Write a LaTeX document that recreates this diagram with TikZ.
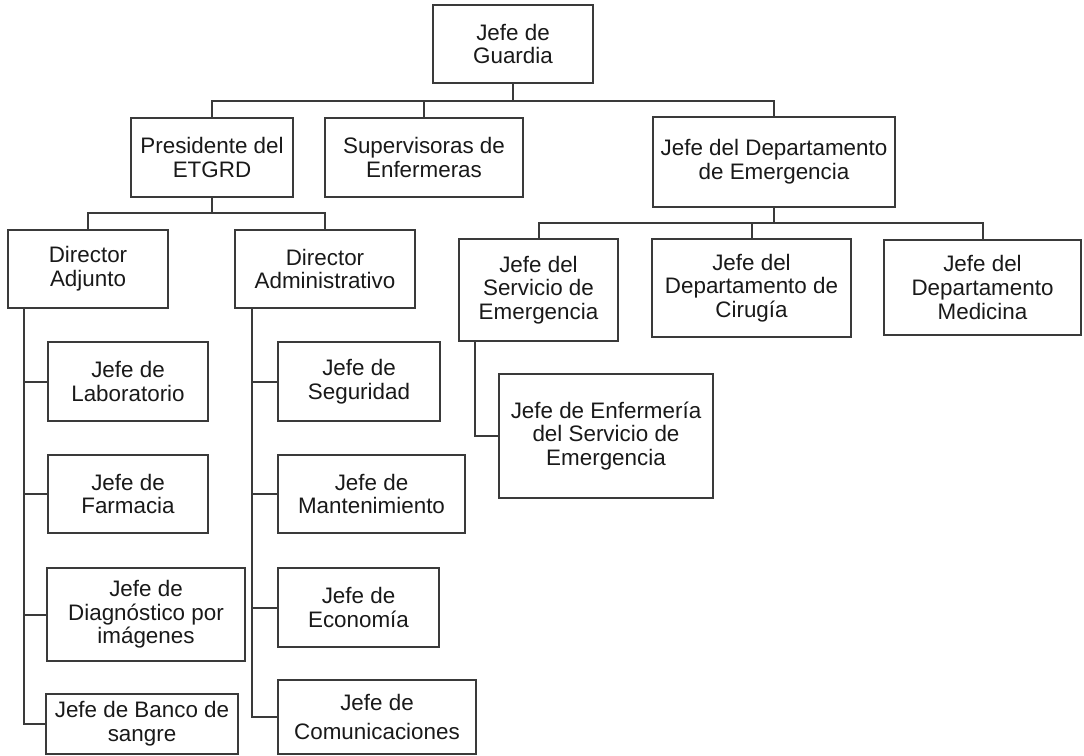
\documentclass[tikz,border=0pt]{standalone}
\usepackage{fontspec}
\setmainfont{Liberation Sans}
\usetikzlibrary{positioning, calc}
\definecolor{linecolor}{RGB}{58, 58, 58}
\definecolor{textcolor}{RGB}{25, 25, 25}

\begin{document}
\begin{tikzpicture}[
    x=0.5pt, y=-0.5pt,
    % Box style
    box/.style={
        rectangle,
        draw=linecolor,
        line width=1pt,
        inner sep=0pt,
        align=center,
        text=textcolor,
        font=\fontsize{11.2}{11.8}\selectfont
    },
    % Connector style
    link/.style={
        draw=linecolor,
        line width=1pt
    }
]

\useasboundingbox (0,0) rectangle (1084,756);

% ===== TOP LEVEL =====

\node[box, minimum width=80pt, minimum height=39pt] (guardia) at (513,44) {
    Jefe de\\Guardia
};

% ===== SECOND LEVEL =====

\node[box, minimum width=81pt, minimum height=39.5pt] (presidente) at (212,157.5) {
    Presidente del\\ETGRD
};

\node[box, minimum width=99pt, minimum height=39.5pt] (supervisoras) at (424,157.5) {
    Supervisoras de\\Enfermeras
};

\node[box, minimum width=121pt, minimum height=45pt] (depemerg) at (774,162) {
    Jefe del Departamento\\de Emergencia
};

% ===== DIRECTORS =====

\node[box, minimum width=80pt, minimum height=39pt] (diradj) at (88,269) {
    Director\\Adjunto
};

\node[box, minimum width=90pt, minimum height=39pt] (diradm) at (325,269) {
    Director\\Administrativo
};

% ===== EMERGENCY BRANCH =====

\node[box, minimum width=79.5pt, minimum height=51pt] (servemerg) at (538.5,290) {
    Jefe del\\Servicio de\\Emergencia
};

\node[box, minimum width=99.5pt, minimum height=49pt] (cirugia) at (751.5,288) {
    Jefe del\\Departamento de\\Cirugía
};

\node[box, minimum width=98.5pt, minimum height=47.5pt] (medicina) at (982.5,287.5) {
    Jefe del\\Departamento\\Medicina
};

\node[box, minimum width=107pt, minimum height=62pt] (enfermeria) at (606,436) {
    Jefe de Enfermería\\del Servicio de\\Emergencia
};

% ===== UNDER DIRECTOR ADJUNTO =====

\node[box, minimum width=80pt, minimum height=39.5pt] (lab) at (128,381.5) {
    Jefe de\\Laboratorio
};

\node[box, minimum width=80pt, minimum height=39pt] (farmacia) at (128,494) {
    Jefe de\\Farmacia
};

\node[box, minimum width=99pt, minimum height=46.5pt] (diagnostico) at (146,614.5) {
    Jefe de\\Diagnóstico por\\imágenes
};

\node[box, minimum width=96pt, minimum height=30pt] (banco) at (142,724) {
    Jefe de Banco de\\sangre
};

% ===== UNDER DIRECTOR ADMINISTRATIVO =====

\node[box, minimum width=81pt, minimum height=39.5pt] (seguridad) at (359,381.5) {
    Jefe de\\Seguridad
};

\node[box, minimum width=93.5pt, minimum height=39pt] (mantenimiento) at (371.5,494) {
    Jefe de\\Mantenimiento
};

\node[box, minimum width=80.5pt, minimum height=39.5pt] (economia) at (358.5,607.5) {
    Jefe de\\Economía
};

\node[box, minimum width=99pt, minimum height=37pt] (comunicaciones) at (377,717) {
    Jefe de\\[3pt]Comunicaciones
};

% ===== BUS LINES =====

\coordinate (topbus) at (0,101);
\coordinate (presbus) at (0,213);
\coordinate (emergbus) at (0,223);
\coordinate (adjbus) at (24,0);
\coordinate (admbus) at (252,0);
\coordinate (servbus) at (475,0);

% ===== CONNECTORS =====

\draw[link] (guardia.south) -- (guardia.south |- topbus);
\draw[link] (presidente.north) |- (topbus -| depemerg.north) -- (depemerg.north);
\draw[link] (supervisoras.north) -- (supervisoras.north |- topbus);

\draw[link] (presidente.south) -- (presidente.south |- presbus);
\draw[link] (diradj.north) |- (presbus -| diradm.north) -- (diradm.north);

\draw[link] (depemerg.south) -- (depemerg.south |- emergbus);
\draw[link] (servemerg.north) |- (emergbus -| medicina.north) -- (medicina.north);
\draw[link] (cirugia.north) -- (cirugia.north |- emergbus);

\draw[link] (adjbus |- diradj.south) |- (banco.west);
\draw[link] (adjbus |- lab.west) -- (lab.west);
\draw[link] (adjbus |- farmacia.west) -- (farmacia.west);
\draw[link] (adjbus |- diagnostico.west) -- (diagnostico.west);

\draw[link] (admbus |- diradm.south) |- (comunicaciones.west);
\draw[link] (admbus |- seguridad.west) -- (seguridad.west);
\draw[link] (admbus |- mantenimiento.west) -- (mantenimiento.west);
\draw[link] (admbus |- economia.west) -- (economia.west);

\draw[link] (servbus |- servemerg.south) |- (enfermeria.west);

\end{tikzpicture}
\end{document}
